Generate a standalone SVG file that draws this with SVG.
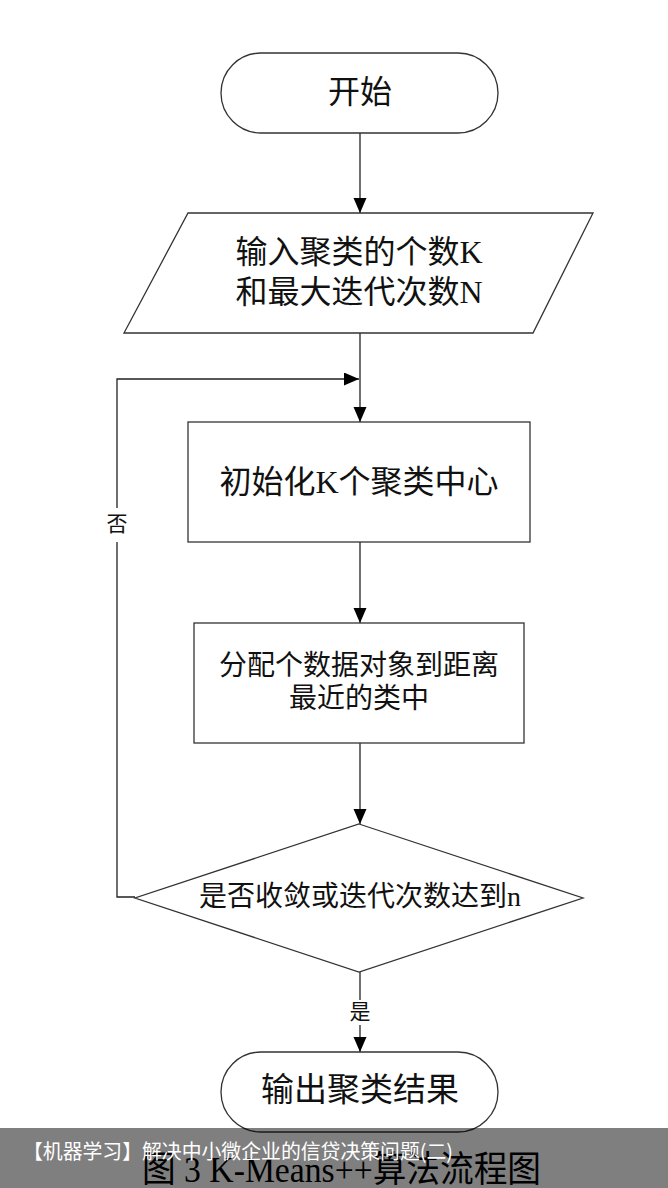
<svg xmlns="http://www.w3.org/2000/svg" width="668" height="1188" viewBox="0 0 668 1188">
<defs>
<marker id="arr" markerUnits="userSpaceOnUse" markerWidth="16" markerHeight="14" refX="15" refY="6.5" orient="auto">
<path d="M0,0 L15,6.5 L0,13 z" fill="#000"/>
</marker>
<style>
.shape{fill:#fff;stroke:#333;stroke-width:1.3}
.conn{fill:none;stroke:#222;stroke-width:1.3}
.t{font-family:"Liberation Serif","Noto Sans CJK SC",serif;fill:#111;text-anchor:middle;dominant-baseline:central}
.lbl{font-family:"Liberation Serif","Noto Sans CJK SC",serif;fill:#111;text-anchor:middle;dominant-baseline:central;font-size:21px}
</style>
</defs>
<rect width="668" height="1188" fill="#fff"/>
<g id="connectors">
<line class="conn" x1="360" y1="133" x2="360" y2="213" marker-end="url(#arr)"/>
<line class="conn" x1="360" y1="333" x2="360" y2="422" marker-end="url(#arr)"/>
<line class="conn" x1="360" y1="542" x2="360" y2="623" marker-end="url(#arr)"/>
<line class="conn" x1="360" y1="743" x2="360" y2="824" marker-end="url(#arr)"/>
<path class="conn" d="M135,897 L117,897 L117,542"/>
<path class="conn" d="M117,508 L117,379 L359,379" marker-end="url(#arr)"/>
<line class="conn" x1="360" y1="972" x2="360" y2="1000"/>
<line class="conn" x1="360" y1="1025" x2="360" y2="1052" marker-end="url(#arr)"/>
<text class="lbl" x="117" y="524">否</text>
<text class="lbl" x="360" y="1012">是</text>
</g>
<g id="start">
<rect class="shape" x="221" y="53" width="277" height="80" rx="40" ry="40"/>
<text class="t" x="360" y="92" font-size="32">开始</text>
</g>
<g id="input">
<polygon class="shape" points="188,213 593,213 533,333 124,333"/>
<text class="t" x="359" y="252" font-size="32">输入聚类的个数K</text>
<text class="t" x="359" y="292" font-size="32">和最大迭代次数N</text>
</g>
<g id="init">
<rect class="shape" x="188" y="422" width="342" height="120"/>
<text class="t" x="359" y="482" font-size="32">初始化K个聚类中心</text>
</g>
<g id="assign">
<rect class="shape" x="194" y="623" width="330" height="120"/>
<text class="t" x="359" y="665" font-size="28">分配个数据对象到距离</text>
<text class="t" x="359" y="698" font-size="28">最近的类中</text>
</g>
<g id="decision">
<polygon class="shape" points="359,824 583,898 359,972 135,898"/>
<text class="t" x="360" y="896" font-size="28">是否收敛或迭代次数达到n</text>
</g>
<g id="end">
<rect class="shape" x="221" y="1052" width="277" height="80" rx="40" ry="40"/>
<text class="t" x="360" y="1090" font-size="33">输出聚类结果</text>
</g>
<text x="142" y="1182" font-family="Liberation Serif,Noto Sans CJK SC,serif" font-size="36" fill="#000" textLength="399" lengthAdjust="spacingAndGlyphs">图 3 K-Means++算法流程图</text>
<rect x="0" y="1128" width="668" height="60" fill="#000" fill-opacity="0.5"/>
<text x="23" y="1159" font-family="Noto Sans CJK SC,sans-serif" font-size="20" fill="#fff" textLength="430" lengthAdjust="spacingAndGlyphs">【机器学习】解决中小微企业的信贷决策问题(二)</text>
</svg>
